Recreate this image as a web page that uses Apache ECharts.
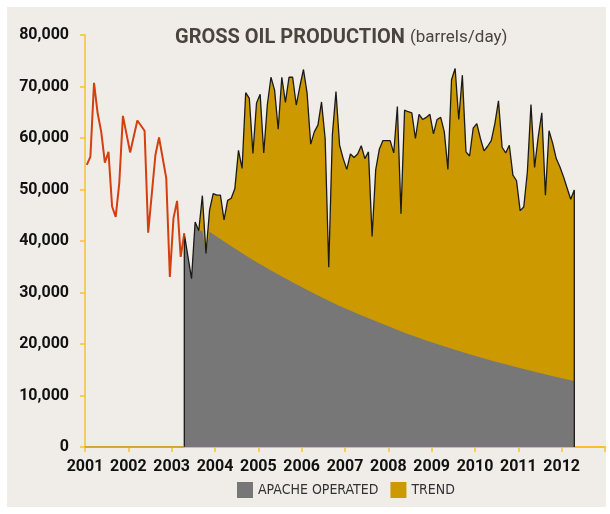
<!DOCTYPE html>
<html>
<head>
<meta charset="utf-8">
<script src="https://cdn.jsdelivr.net/npm/echarts@6/dist/echarts.min.js"></script>
<style>
  html, body { margin: 0; padding: 0; background: #fff; }
  #bg { position: absolute; left: 7px; top: 7px; width: 599px; height: 500px; background: #f0ede8; }
  #chart { position: absolute; left: 0; top: 0; width: 610px; height: 514px; }
</style>
</head>
<body>
<div id="bg"></div>
<div id="chart"></div>
<script>
// months are counted from Jan 2001 (0 = Jan 2001), points sit mid-month
const yearTicks = [2001, 2002, 2003, 2004, 2005, 2006, 2007, 2008, 2009, 2010, 2011, 2012, 2013];

// earlier production (red line), vertices
const priorMonths = [0, 1, 2, 3, 4, 5, 6, 7, 8, 9, 10, 12, 14, 16, 17, 19, 20, 22, 23, 24, 25, 26, 27];
const priorValues = [54800, 56400, 70700, 64800, 61200, 55200, 57300, 46700, 44700, 51300, 64300,
  57200, 63400, 61400, 41600, 56700, 60100, 52200, 33000, 44400, 47800, 36900, 41500];

// gross production from Apr 2003, one value per month
const grossStart = 27;
const grossValues = [
  41400, 37000, 32700, 43700, 42000, 48800, 37600, 46000, 49200, 48900, 48900, 44100,
  47900, 48300, 50200, 57600, 54100, 68800, 67700, 57000, 66800, 68500, 57100, 66500,
  71800, 69300, 61700, 71800, 66900, 71800, 71800, 66400, 70000, 73300, 68700, 58800,
  61200, 62500, 67000, 59900, 34900, 60600, 69000, 58600, 56000, 53900, 56900, 56200,
  56900, 58500, 56000, 57300, 40900, 53800, 57800, 59500, 59500, 59500, 57100, 66100,
  45300, 65400, 65100, 64900, 59900, 64600, 63600, 64000, 64600, 60800, 63600, 64000,
  61200, 53900, 71300, 73500, 63600, 72200, 57300, 56500, 61900, 62800, 59900, 57500,
  58400, 59500, 62800, 67200, 58200, 57100, 58600, 52800, 51700, 45900, 46600, 53400,
  66500, 54300, 60200, 64900, 48900, 61400, 59000, 56000, 54400, 52500, 50300, 48100,
  49900
];

// apache operated base (grey), months relative to grossStart
const baseMonths = [0, 1, 2, 3, 4, 5, 6, 7, 13, 19, 25, 31, 37, 43, 49, 55, 61, 67, 73, 79, 85, 91, 97, 103, 108];
const baseValues = [41400, 37000, 32700, 43700, 42000, 42000, 37600, 41800, 39000, 36300, 33900, 31600,
  29400, 27400, 25600, 23900, 22200, 20700, 19300, 18000, 16800, 15700, 14600, 13600, 12800];

const yTicks = [0, 10000, 20000, 30000, 40000, 50000, 60000, 70000, 80000];

const toYear = m => 2001 + (m + 0.5) / 12;

const grossPts = grossValues.map((v, i) => [toYear(grossStart + i), v]);
const grossOutline = [[toYear(grossStart), 0]].concat(grossPts, [[toYear(grossStart + grossValues.length - 1), 0]]);
const basePts = baseMonths.map((m, i) => [toYear(grossStart + m), baseValues[i]]);
const priorPts = priorMonths.map((m, i) => [toYear(m), priorValues[i]]);
const zeroPts = [[2001, 0], [toYear(grossStart), 0]];

const GOLD = '#cc9900', GREY = '#777777', RED = '#d43f0e', AXIS = '#f6c22c';
const condensed = "'DejaVu Sans Condensed', sans-serif";

const chart = echarts.init(document.getElementById('chart'), null, { renderer: 'canvas' });
chart.setOption({
  animation: false,
  backgroundColor: 'transparent',
  title: {
    text: '{b|GROSS OIL PRODUCTION} {r|(barrels/day)}',
    left: 175, top: 28, padding: 0,
    textStyle: {
      rich: {
        b: { fontFamily: 'Roboto', fontWeight: 'bold', fontSize: 20, color: '#4a443e' },
        r: { fontFamily: 'Roboto', fontWeight: 'normal', fontSize: 17, color: '#4a443e' }
      }
    }
  },
  legend: {
    data: ['APACHE OPERATED', 'TREND'],
    icon: 'rect', itemWidth: 16, itemHeight: 16, itemGap: 12,
    left: 237, top: 482, padding: 0,
    textStyle: { fontFamily: condensed, fontSize: 14, color: '#333' }
  },
  grid: { left: 85, right: 5, top: 35, bottom: 67 },
  xAxis: {
    type: 'value', min: 2001, max: 2013, interval: 1,
    axisLine: { lineStyle: { color: AXIS, width: 2 } },
    axisTick: { length: 5, lineStyle: { color: AXIS, width: 1.5 } },
    splitLine: { show: false },
    axisLabel: {
      margin: 12, color: '#111', fontFamily: 'Roboto', fontWeight: 'bold', fontSize: 16,
      formatter: v => (yearTicks.indexOf(v) >= 0 && v !== 2013) ? String(v) : ''
    }
  },
  yAxis: {
    type: 'value', min: 0, max: 80000, interval: 10000,
    axisLine: { show: true, lineStyle: { color: AXIS, width: 1.5 } },
    axisTick: { show: true, length: 5, lineStyle: { color: AXIS, width: 1.5 } },
    splitLine: { show: false },
    axisLabel: {
      margin: 16, color: '#111', fontFamily: 'Roboto', fontWeight: 'bold', fontSize: 16,
      formatter: v => yTicks.indexOf(v) >= 0 ? v.toLocaleString('en-US') : ''
    }
  },
  series: [
    {
      name: 'TREND', type: 'line', data: grossPts, showSymbol: false,
      itemStyle: { color: GOLD }, lineStyle: { width: 0 },
      areaStyle: { color: GOLD, opacity: 1 }
    },
    {
      name: 'APACHE OPERATED', type: 'line', data: basePts, showSymbol: false,
      itemStyle: { color: GREY }, lineStyle: { width: 0 },
      areaStyle: { color: GREY, opacity: 1 }
    },
    {
      name: 'gross', type: 'line', data: grossOutline, showSymbol: false,
      lineStyle: { color: '#1a1a1a', width: 1.3 }
    },
    {
      name: 'prior', type: 'line', data: priorPts, showSymbol: false,
      lineStyle: { color: RED, width: 2 }
    },
    {
      name: 'zero', type: 'line', data: zeroPts, showSymbol: false,
      lineStyle: { color: '#c29a2e', width: 1.5 }
    }
  ]
});
</script>
</body>
</html>
